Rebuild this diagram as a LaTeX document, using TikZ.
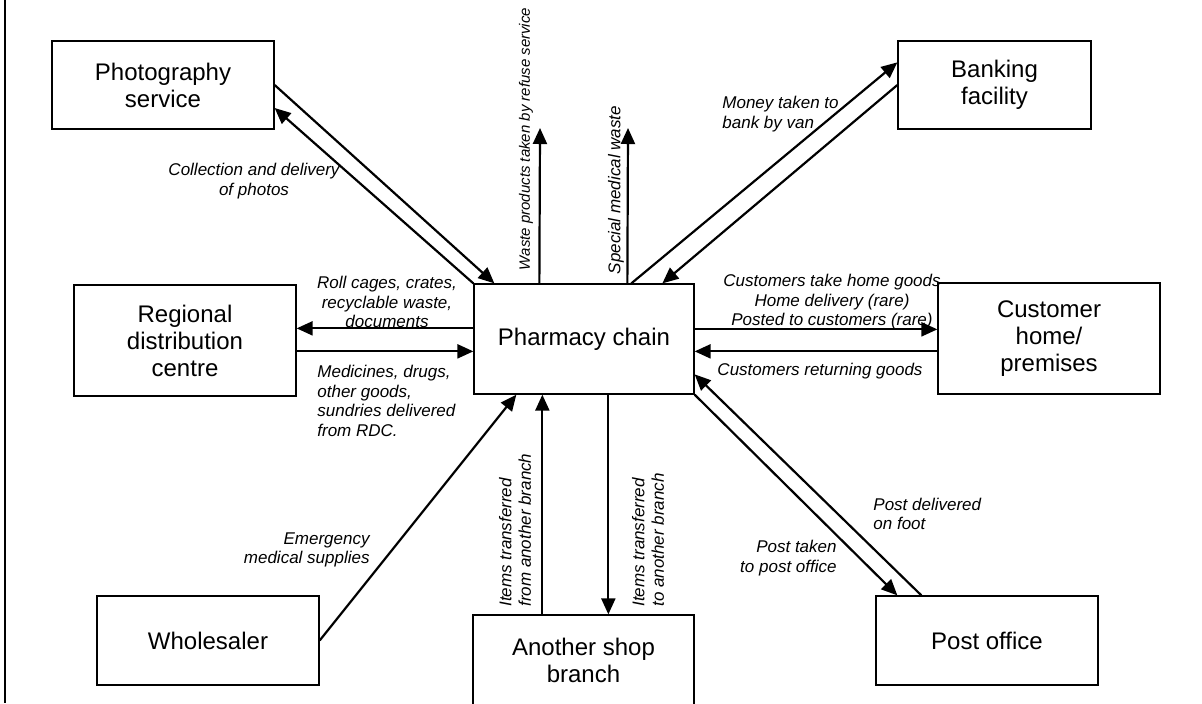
\documentclass[tikz,border=0pt]{standalone}
\usepackage{fontspec}
\setmainfont{Liberation Sans}
\usetikzlibrary{arrows.meta,calc}

\begin{document}
\begin{tikzpicture}[x=0.5pt,y=0.5pt,yscale=-1,xscale=1,
  box/.style={draw,line width=0.65pt,inner sep=0pt,align=center,font=\fontsize{12}{13.5}\selectfont},
  flow/.style={line width=1.1pt,-{Triangle[length=8pt,width=7pt]}},
  lbl/.style={inner sep=0pt,font=\fontsize{8.5}{9.75}\selectfont\itshape}]
\useasboundingbox (0,0) rectangle (1202,703);
%Straight Lines
\draw [line width=0.6pt] (5,0) -- (5,703);
%Shapes
\node [box,minimum width=111pt,minimum height=44pt] (photo) at (163,85) {Photography\\service};
\node [box,minimum width=96.5pt,minimum height=44pt] (bank) at (994.5,85) {Banking\\facility};
\node [box,minimum width=111pt,minimum height=55.5pt] (rdc) at (185,340.5) {Regional\\distribution\\centre};
\node [box,minimum width=110pt,minimum height=55pt] (pharm) at (584,339) {Pharmacy chain};
\node [box,minimum width=111pt,minimum height=55.5pt] (cust) at (1049,338.5) {Customer\\home/\\premises};
\node [box,minimum width=111pt,minimum height=44.5pt] (whole) at (208,640.5) {Wholesaler};
\node [box,minimum width=110.5pt,minimum height=45pt] (branch) at (583.5,660) {Another shop\\branch};
\node [box,minimum width=111pt,minimum height=44.5pt] (post) at (987,640.5) {Post office};
%Free ends
\coordinate (waste) at (540,128);
\coordinate (special) at (628,128);
%Straight Lines
\draw [flow] (photo.east) -- ($(pharm.north west)+(21,0)$);
\draw [flow] (pharm.north west) -- ($(photo.east)+(0,23)$);
\draw [flow] ($(pharm.north west)+(66,0)$) -- (waste);
\draw [flow] ($(pharm.north west)+(154,0)$) -- (special);
\draw [flow] ($(pharm.north west)+(158,0)$) -- ($(bank.north west)+(0,22)$);
\draw [flow] (bank.west) -- ($(pharm.north west)+(189,0)$);
\draw [flow] ($(pharm.north west)+(0,45)$) -- ($(rdc.north east)+(0,44)$);
\draw [flow] ($(rdc.north east)+(0,67)$) -- ($(pharm.north west)+(0,68)$);
\draw [flow] ($(pharm.north east)+(0,46)$) -- ($(cust.north west)+(0,47)$);
\draw [flow] ($(cust.north west)+(0,69)$) -- ($(pharm.north east)+(0,68)$);
\draw [flow] (pharm.south east) -- ($(post.north west)+(22,0)$);
\draw [flow] ($(post.north west)+(46,0)$) -- ($(pharm.north east)+(0,91)$);
\draw [flow] ($(branch.north west)+(70,0)$) -- ($(pharm.south west)+(69,0)$);
\draw [flow] ($(pharm.south west)+(135,0)$) -- ($(branch.north west)+(136,0)$);
\draw [flow] (whole.east) -- ($(pharm.south west)+(43,0)$);
% Text Node
\node [lbl,align=center] (lphoto) at (254,181) {Collection and delivery\\of photos};
\node [lbl,rotate=90,font=\fontsize{7.5}{9}\selectfont\itshape] (lwaste) at (526,139) {Waste products taken by refuse service};
\node [lbl,rotate=90] (lspecial) at (616,190) {Special medical waste};
\node [lbl,align=left,anchor=west] (lbank) at (722,114) {Money taken to\\bank by van};
\node [lbl,align=center] (lcages) at (387,302) {Roll cages, crates,\\recyclable waste,\\documents};
\node [lbl,align=left,anchor=west] (lmeds) at (317,401) {Medicines, drugs,\\other goods,\\sundries delivered\\from RDC.};
\node [lbl,align=center] (lhome) at (832,302) {Customers take home goods\\Home delivery (rare)\\Posted to customers (rare)};
\node [lbl] (lreturn) at (820,371) {Customers returning goods};
\node [lbl,align=left,anchor=west] (lfoot) at (873,514) {Post delivered\\on foot};
\node [lbl,align=right,anchor=east] (ltaken) at (837,558) {Post taken\\to post office};
\node [lbl,align=right,anchor=east] (lemerg) at (370,550) {Emergency\\medical supplies};
\node [lbl,align=left,anchor=west,rotate=90] (lfrom) at (515,607) {Items transferred\\from another branch};
\node [lbl,align=left,anchor=west,rotate=90] (lto) at (648,607) {Items transferred\\to another branch};
\end{tikzpicture}
\end{document}
